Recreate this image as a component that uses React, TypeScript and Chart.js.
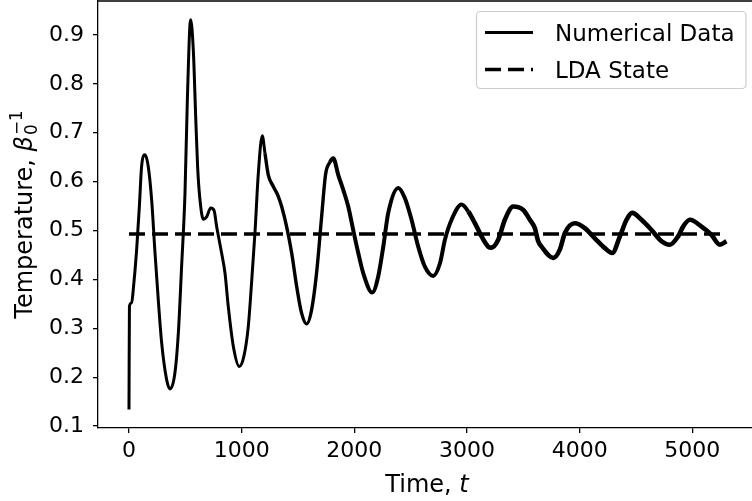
import React, { useEffect, useRef } from "react";
import { Chart, registerables } from "chart.js";

Chart.register(...registerables);

const numTimes = [
  0, 4, 24, 38, 68, 92, 112, 142, 171, 201, 231, 260, 290, 334, 364, 408, 438, 467, 497, 518,
  547, 571, 592, 609, 630, 660, 689, 725, 755, 778, 822, 852, 881, 926, 979, 1020, 1059, 1088,
  1118, 1148, 1183, 1207, 1236, 1281, 1325, 1355, 1399, 1444, 1488, 1532, 1577, 1621, 1665,
  1710, 1745, 1784, 1813, 1857, 1902, 1946, 1990, 2035, 2079, 2159, 2212, 2257, 2301, 2390,
  2449, 2508, 2567, 2626, 2700, 2760, 2804, 2863, 2952, 3011, 3070, 3129, 3188, 3218, 3277,
  3336, 3410, 3499, 3558, 3602, 3632, 3662, 3765, 3824, 3869, 3957, 4046, 4135, 4224, 4289,
  4357, 4416, 4466, 4549, 4638, 4727, 4800, 4874, 4918, 4978, 5082, 5170, 5244, 5303,
];
const numTemps = [
  0.134, 0.345, 0.352, 0.379, 0.461, 0.549, 0.631, 0.655, 0.631, 0.563, 0.454, 0.358, 0.27,
  0.195, 0.176, 0.209, 0.29, 0.426, 0.576, 0.767, 0.931, 0.869, 0.733, 0.631, 0.563, 0.523,
  0.528, 0.546, 0.541, 0.508, 0.454, 0.413, 0.345, 0.263, 0.222, 0.243, 0.304, 0.393, 0.495,
  0.617, 0.694, 0.658, 0.614, 0.59, 0.57, 0.549, 0.508, 0.454, 0.386, 0.331, 0.309, 0.338,
  0.413, 0.529, 0.615, 0.64, 0.648, 0.614, 0.583, 0.549, 0.501, 0.454, 0.413, 0.373, 0.406,
  0.467, 0.536, 0.587, 0.566, 0.522, 0.467, 0.426, 0.407, 0.433, 0.481, 0.522, 0.553, 0.539,
  0.515, 0.488, 0.467, 0.465, 0.481, 0.522, 0.549, 0.542, 0.522, 0.505, 0.478, 0.467, 0.444,
  0.461, 0.495, 0.515, 0.505, 0.484, 0.464, 0.454, 0.488, 0.522, 0.536, 0.522, 0.501, 0.478,
  0.471, 0.488, 0.508, 0.522, 0.508, 0.491, 0.471, 0.478,
];
const ldaTimes = [0, 5300];
const ldaTemps = [0.493, 0.493];
const xTickValues = [0, 1000, 2000, 3000, 4000, 5000];
const yTickValues = [0.1, 0.2, 0.3, 0.4, 0.5, 0.6, 0.7, 0.8, 0.9];
const seriesLabels = ["Numerical Data", "LDA State"];
const xLabelParts = ["Time, ", "t"];
const yLabelParts = ["Temperature, ", "β", "0", "−1"];

const FONT = "'DejaVu Sans', sans-serif";

export default function App() {
  const ref = useRef<HTMLCanvasElement>(null);

  useEffect(() => {
    const canvas = ref.current;
    if (!canvas) return;

    const decor = {
      id: "mplDecor",
      afterDraw(chart: any) {
        const { ctx, chartArea: a } = chart;
        ctx.save();
        // top spine
        ctx.strokeStyle = "#000";
        ctx.lineWidth = 1.3;
        ctx.beginPath();
        ctx.moveTo(a.left - 0.65, a.top);
        ctx.lineTo(a.right, a.top);
        ctx.stroke();

        // x label
        const lf = 24;
        ctx.fillStyle = "#000";
        ctx.textBaseline = "alphabetic";
        ctx.textAlign = "left";
        ctx.font = `${lf}px ${FONT}`;
        const w1 = ctx.measureText(xLabelParts[0]).width;
        ctx.font = `italic ${lf}px ${FONT}`;
        const w2 = ctx.measureText(xLabelParts[1]).width;
        const cx = (a.left + a.right) / 2;
        const xs = cx - (w1 + w2) / 2;
        ctx.font = `${lf}px ${FONT}`;
        ctx.fillText(xLabelParts[0], xs, 492);
        ctx.font = `italic ${lf}px ${FONT}`;
        ctx.fillText(xLabelParts[1], xs + w1, 492);

        // y label (rotated)
        const sf = lf * 0.7;
        ctx.font = `${lf}px ${FONT}`;
        const t1 = ctx.measureText(yLabelParts[0]).width;
        ctx.font = `italic ${lf}px ${FONT}`;
        const tb = ctx.measureText(yLabelParts[1]).width;
        ctx.font = `${sf}px ${FONT}`;
        const ts = Math.max(ctx.measureText(yLabelParts[2]).width, ctx.measureText(yLabelParts[3]).width);
        const total = t1 + tb + ts + 1;
        const cy = (a.top + a.bottom) / 2;
        ctx.save();
        ctx.translate(32, cy);
        ctx.rotate(-Math.PI / 2);
        let px = -total / 2;
        ctx.font = `${lf}px ${FONT}`;
        ctx.fillText(yLabelParts[0], px, 0);
        px += t1;
        ctx.font = `italic ${lf}px ${FONT}`;
        ctx.fillText(yLabelParts[1], px, 0);
        px += tb + 1;
        ctx.font = `${sf}px ${FONT}`;
        ctx.fillText(yLabelParts[2], px, lf * 0.2);
        ctx.fillText(yLabelParts[3], px, -lf * 0.42);
        ctx.restore();

        // legend
        const bx = 476.5, by = 11.5, bw = 269.5, bh = 77;
        ctx.beginPath();
        if ((ctx as any).roundRect) (ctx as any).roundRect(bx, by, bw, bh, 4);
        else ctx.rect(bx, by, bw, bh);
        ctx.fillStyle = "rgba(255,255,255,0.8)";
        ctx.fill();
        ctx.strokeStyle = "#cccccc";
        ctx.lineWidth = 1.2;
        ctx.stroke();
        const ds = chart.data.datasets;
        const rowY = [32.5, 69.5];
        ctx.font = `23px ${FONT}`;
        ctx.fillStyle = "#000";
        ctx.textBaseline = "alphabetic";
        for (let i = 0; i < ds.length; i++) {
          const d = ds[i];
          ctx.strokeStyle = "#000";
          ctx.lineWidth = i === 0 ? 3 : 3.5;
          ctx.setLineDash(d.borderDash || []);
          ctx.lineCap = "butt";
          ctx.beginPath();
          ctx.moveTo(485, rowY[i]);
          ctx.lineTo(533, rowY[i]);
          ctx.stroke();
          ctx.setLineDash([]);
          ctx.fillText(d.label, 555, rowY[i] + 8.4);
        }
        ctx.restore();
      },
    };

    const chart = new Chart(canvas, {
      type: "line",
      data: {
        datasets: [
          {
            label: seriesLabels[0],
            data: numTimes.map((t, i) => ({ x: t, y: numTemps[i] })),
            borderColor: "#000",
            borderWidth: 3,
            pointRadius: 0,
            cubicInterpolationMode: "monotone",
            fill: false,
            segment: {
              borderWidth: (c: any) => {
                const t = c.p0.parsed.x;
                if (t > 3000) return 4.6;
                if (t > 1750) return 4;
                if (t > 1200) return 3.4;
                return 3;
              },
            },
          } as any,
          {
            label: seriesLabels[1],
            data: ldaTimes.map((t, i) => ({ x: t, y: ldaTemps[i] })),
            borderColor: "#000",
            borderWidth: 3.5,
            borderDash: [16, 7],
            pointRadius: 0,
            fill: false,
          },
        ],
      },
      options: {
        animation: false,
        responsive: true,
        maintainAspectRatio: false,
        devicePixelRatio: 1,
        layout: { padding: { top: 1, left: 0, right: 0, bottom: 0 } },
        plugins: { legend: { display: false }, tooltip: { enabled: false } },
        scales: {
          x: {
            type: "linear",
            min: -275,
            max: 5565,
            afterBuildTicks: (s: any) => {
              s.ticks = xTickValues.map((v) => ({ value: v }));
            },
            afterFit: (s: any) => {
              s.height = 73;
              s.paddingLeft = 0;
              s.paddingRight = 0;
              s.paddingTop = 0;
              s.paddingBottom = 0;
            },
            grid: {
              drawOnChartArea: false,
              drawTicks: true,
              tickLength: 5,
              color: "#000",
              lineWidth: 1.3,
            },
            border: { display: true, color: "#000", width: 1.3 },
            ticks: {
              autoSkip: false,
              maxRotation: 0,
              padding: 5,
              color: "#000",
              font: { family: FONT, size: 22 },
              callback: (v: any) => String(v),
            },
          },
          y: {
            type: "linear",
            min: 0.096,
            max: 0.9695,
            afterBuildTicks: (s: any) => {
              s.ticks = yTickValues.map((v) => ({ value: v }));
            },
            afterFit: (s: any) => {
              s.width = 98;
              s.paddingLeft = 0;
              s.paddingRight = 0;
              s.paddingTop = 0;
              s.paddingBottom = 0;
            },
            grid: {
              drawOnChartArea: false,
              drawTicks: true,
              tickLength: 5,
              color: "#000",
              lineWidth: 1.3,
            },
            border: { display: true, color: "#000", width: 1.3 },
            ticks: {
              autoSkip: false,
              padding: 9,
              color: "#000",
              font: { family: FONT, size: 22 },
              callback: (v: any) => Number(v).toFixed(1),
            },
          },
        },
      },
      plugins: [decor],
    });

    return () => chart.destroy();
  }, []);

  return (
    <div
      style={{
        position: "fixed",
        left: 0,
        top: 0,
        width: "756px",
        height: "501px",
        background: "#fff",
      }}
    >
      <canvas ref={ref} style={{ display: "block" }} />
    </div>
  );
}
